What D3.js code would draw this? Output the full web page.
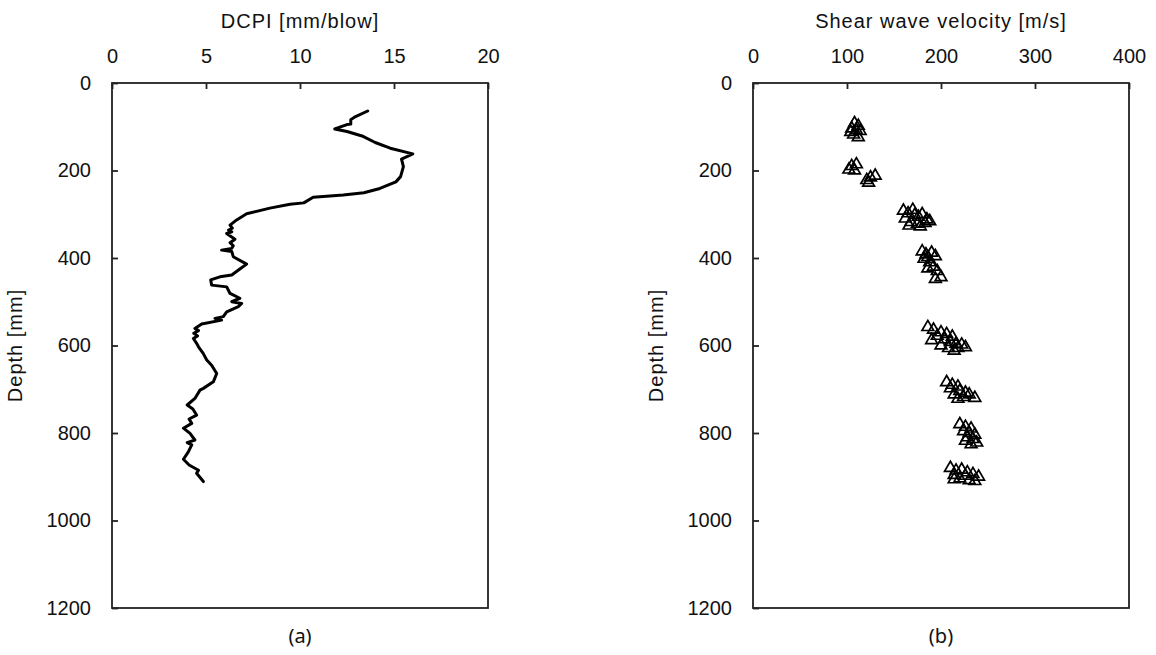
<!DOCTYPE html>
<html>
<head>
<meta charset="utf-8">
<script src="https://cdn.jsdelivr.net/npm/d3@7"></script>
<style>
  body { margin: 0; background: #fff; }
  text { font-family: "Liberation Sans", Arial, sans-serif; fill: #111; }
</style>
</head>
<body>
<svg id="chart" width="1156" height="655"></svg>
<script>

// DCPI profile: [DCPI mm/blow, depth mm]
var dcpiProfile = [
  [13.6, 64], [12.9, 78], [12.7, 84], [12.7, 94], [12.5, 95], [11.85, 105],
  [12.5, 111], [13.3, 121], [14.0, 136], [14.8, 149], [16.0, 162], [15.4, 174],
  [15.5, 191], [15.35, 214], [15.1, 226], [14.25, 241], [13.4, 251], [12.3, 256],
  [10.7, 261], [10.2, 274], [9.47, 277], [8.4, 286], [7.16, 299], [6.63, 313],
  [6.28, 325], [6.4, 332], [6.2, 336], [6.37, 340], [6.1, 344], [6.54, 357],
  [6.28, 365], [6.45, 372], [6.37, 378], [5.83, 382], [6.37, 385], [6.45, 397],
  [7.16, 414], [6.8, 425], [6.37, 439], [5.74, 443], [5.25, 450], [5.3, 462],
  [6.1, 466], [6.28, 481], [6.8, 492], [6.37, 500], [6.9, 504], [6.72, 511],
  [6.1, 523], [5.92, 534], [5.48, 538], [5.83, 542], [4.77, 551], [4.41, 561],
  [4.6, 566], [4.35, 572], [4.55, 578], [4.33, 584], [4.5, 595], [4.6, 603],
  [4.85, 618], [5.04, 633], [5.3, 645], [5.57, 664], [5.39, 683], [4.86, 698],
  [4.68, 702], [4.41, 721], [4.0, 736], [4.3, 745], [4.5, 759], [4.1, 768],
  [4.24, 778], [3.8, 789], [4.15, 801], [4.41, 816], [4.0, 822], [4.24, 827],
  [4.06, 843], [3.8, 860], [4.1, 873], [4.6, 885], [4.5, 892], [4.86, 911]
];

// Shear wave velocity: [Vs m/s, depth mm]
var vsPoints = [
  [108, 92], [112, 98], [105, 104], [110, 108], [104, 112], [114, 110], [107, 118], [112, 124],
  [105, 190], [110, 186], [102, 198], [108, 200], [121, 222], [125, 216], [130, 212], [123, 228],
  [160, 292], [165, 298], [170, 290], [172, 302], [176, 306], [162, 310], [180, 300], [185, 312],
  [168, 318], [175, 322], [183, 320], [188, 316], [166, 326], [178, 328],
  [180, 385], [184, 392], [190, 388], [186, 398], [182, 402], [194, 396], [188, 410], [192, 420],
  [186, 424], [196, 430], [200, 444], [194, 448],
  [186, 558], [192, 564], [200, 570], [196, 578], [206, 574], [212, 580], [204, 586], [190, 588],
  [210, 592], [216, 596], [200, 600], [222, 598], [208, 606], [218, 606], [214, 612], [226, 604],
  [206, 684], [212, 690], [218, 694], [210, 698], [220, 704], [226, 708], [214, 712], [224, 718],
  [230, 712], [236, 720], [218, 722],
  [220, 780], [226, 786], [232, 790], [224, 796], [230, 800], [236, 804], [228, 810], [234, 814],
  [226, 818], [238, 822], [232, 826],
  [210, 880], [216, 886], [222, 884], [228, 890], [214, 896], [226, 898], [234, 894], [240, 900],
  [220, 904], [230, 908], [236, 910], [214, 906]
];

var dcpiTicks = [0, 5, 10, 15, 20];
var vsTicks = [0, 100, 200, 300, 400];
var depthTicks = [0, 200, 400, 600, 800, 1000, 1200];

var svg = d3.select("#chart");

var plotTop = 83, plotBottom = 608;

var y = d3.scaleLinear().domain([0, 1200]).range([plotTop, plotBottom]);

function drawPanel(left, right, xDomain, xTicks, xTitle, caption) {
  var x = d3.scaleLinear().domain(xDomain).range([left, right]);
  var g = svg.append("g");

  // frame
  g.append("rect")
    .attr("x", left).attr("y", plotTop)
    .attr("width", right - left).attr("height", plotBottom - plotTop)
    .attr("fill", "none").attr("stroke", "#222").attr("stroke-width", 1.8);

  var xAxis = g.append("g")
    .attr("transform", "translate(0," + plotTop + ")")
    .call(d3.axisTop(x).tickValues(xTicks).tickSize(-6).tickPadding(20).tickFormat(d3.format("d")));
  var yAxis = g.append("g")
    .attr("transform", "translate(" + left + ",0)")
    .call(d3.axisLeft(y).tickValues(depthTicks).tickSize(-6).tickPadding(21).tickFormat(d3.format("d")));

  [xAxis, yAxis].forEach(function(a) {
    a.select(".domain").remove();
    a.selectAll(".tick line").attr("stroke", "#222").attr("stroke-width", 1.8);
    a.selectAll(".tick text").style("font-size", "20px").attr("fill", "#111")
      .style("font-family", "'Liberation Sans', Arial, sans-serif");
  });

  g.append("text")
    .attr("x", (left + right) / 2).attr("y", 28)
    .attr("text-anchor", "middle")
    .style("font-size", "20px")
    .style("letter-spacing", "1px")
    .text(xTitle);

  g.append("text")
    .attr("transform", "translate(" + (left - 90) + "," + ((plotTop + plotBottom) / 2) + ") rotate(-90)")
    .attr("text-anchor", "middle")
    .style("font-size", "20px")
    .style("letter-spacing", "1px")
    .text("Depth [mm]");

  g.append("text")
    .attr("x", (left + right) / 2).attr("y", 643)
    .attr("text-anchor", "middle")
    .style("font-size", "20px")
    .style("font-family", "'Noto Sans', sans-serif")
    .text(caption);

  return { g: g, x: x };
}

// (a) DCPI
var pa = drawPanel(112, 488, [0, 20], dcpiTicks, "DCPI [mm/blow]", "(a)");
var line = d3.line()
  .x(function(d) { return pa.x(d[0]); })
  .y(function(d) { return y(d[1]); });
pa.g.append("path")
  .datum(dcpiProfile)
  .attr("d", line)
  .attr("fill", "none")
  .attr("stroke", "#000")
  .attr("stroke-width", 3)
  .attr("stroke-linejoin", "round")
  .attr("stroke-linecap", "round");

// (b) Shear wave velocity
var pb = drawPanel(753, 1129, [0, 400], vsTicks, "Shear wave velocity [m/s]", "(b)");
var tri = d3.symbol().type(d3.symbolTriangle).size(60);
pb.g.selectAll("path.vs")
  .data(vsPoints)
  .enter()
  .append("path")
  .attr("class", "vs")
  .attr("transform", function(d) { return "translate(" + pb.x(d[0]) + "," + y(d[1]) + ")"; })
  .attr("d", tri)
  .attr("fill", "none")
  .attr("stroke", "#000")
  .attr("stroke-width", 1.7);

</script>
</body>
</html>
